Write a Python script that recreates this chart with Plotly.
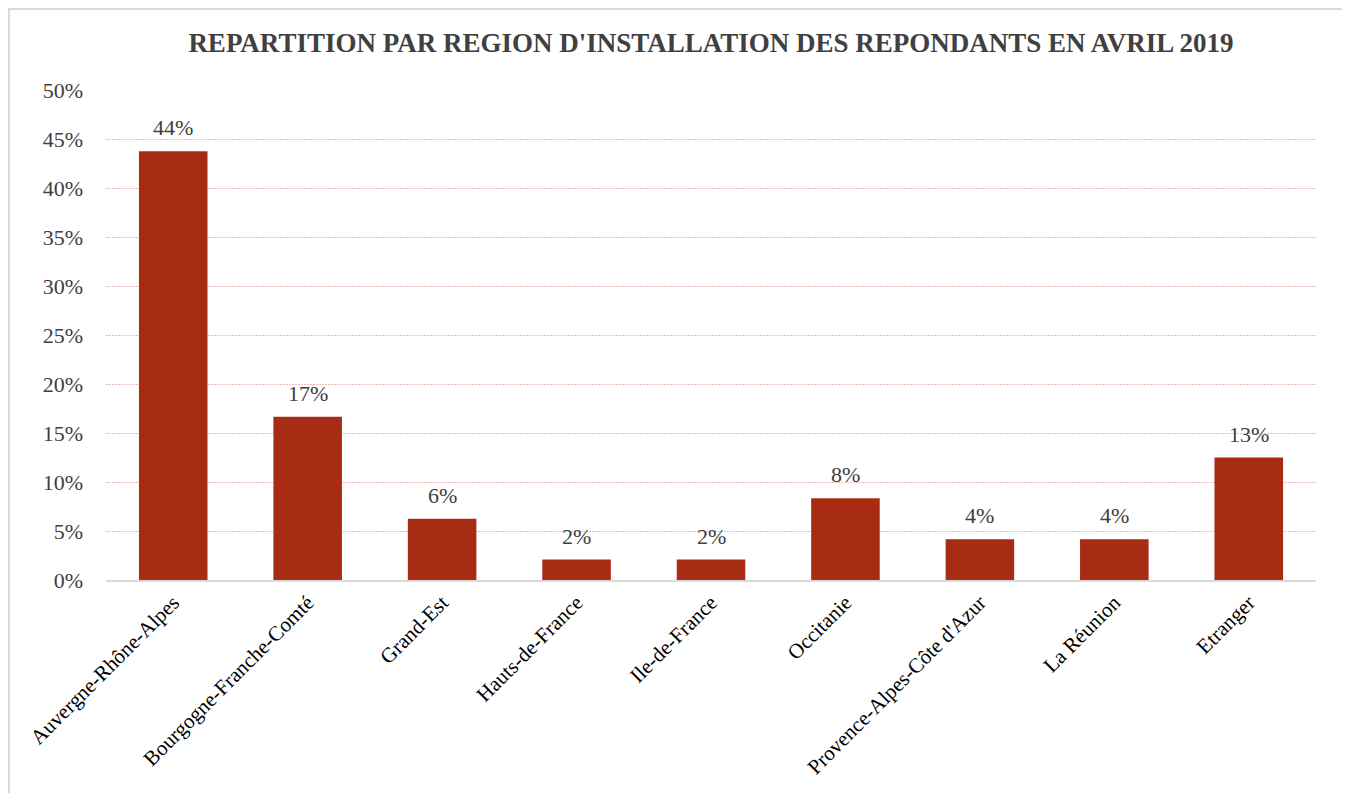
import plotly.graph_objects as go

categories = ["Auvergne-Rhône-Alpes", "Bourgogne-Franche-Comté", "Grand-Est",
              "Hauts-de-France", "Ile-de-France", "Occitanie",
              "Provence-Alpes-Côte d'Azur", "La Réunion", "Etranger"]
values = [0.4375, 0.1667, 0.0625, 0.0208, 0.0208, 0.0833, 0.0417, 0.0417, 0.125]
labels = ["44%", "17%", "6%", "2%", "2%", "8%", "4%", "4%", "13%"]
y_ticks = [0, 0.05, 0.10, 0.15, 0.20, 0.25, 0.30, 0.35, 0.40, 0.45, 0.50]
y_tick_labels = ["0%", "5%", "10%", "15%", "20%", "25%", "30%", "35%", "40%", "45%", "50%"]
title = "REPARTITION PAR REGION D'INSTALLATION DES REPONDANTS EN AVRIL 2019"

# page offset of the figure (browser body margin)
OFF = 8
W, H = 1342, 785
ml, mt = 106 - OFF, 90 - OFF
mr = W - (1316 - OFF)
mb = H - (580 - OFF)
pw, ph = W - ml - mr, H - mt - mb

fig = go.Figure(go.Bar(
    x=categories, y=values,
    marker=dict(color="#a82c14", line=dict(width=0)),
    cliponaxis=False,
))

annotations = [
    dict(x=c, y=v, xref="x", yref="y", text=t, showarrow=False,
         yanchor="bottom", yshift=9,
         font=dict(family="Liberation Serif", size=22, color="#404040"))
    for c, v, t in zip(categories, values, labels)
]

def fx(p):
    return (p - OFF - ml) / pw

def fy(p):
    return (H - mb - (p - OFF)) / ph

fig.update_layout(
    width=W, height=H,
    margin=dict(l=ml, r=mr, t=mt, b=mb, autoexpand=False),
    paper_bgcolor="white", plot_bgcolor="white",
    bargap=0.49,
    showlegend=False,
    title=dict(text="<b>" + title + "</b>", x=0.5, xref="paper", xanchor="center",
               y=1 - (43 - OFF) / H, yanchor="middle",
               font=dict(family="Liberation Serif", size=27, color="#404040")),
    xaxis=dict(
        tickangle=-45, tickfont=dict(family="Liberation Serif", size=21, color="black"),
        showgrid=False, showline=True, linecolor="#d9d9d9", linewidth=2,
        ticks="", zeroline=False,
    ),
    yaxis=dict(
        range=[0, 0.5], tickvals=y_ticks, ticktext=y_tick_labels,
        tickfont=dict(family="Liberation Serif", size=22, color="#404040"),
        showgrid=True, gridcolor="#f2b8b3", griddash="2px,1px", gridwidth=1,
        showline=False, zeroline=False, ticks="", ticklabelstandoff=22,
    ),
    annotations=annotations,
    shapes=[dict(type="rect", xref="paper", yref="paper",
                 x0=fx(OFF + 1), x1=fx(1345), y0=fy(810), y1=fy(OFF + 1),
                 line=dict(color="#d9d9d9", width=2), fillcolor="rgba(0,0,0,0)",
                 layer="below")],
)

fig.write_html("out.html")
